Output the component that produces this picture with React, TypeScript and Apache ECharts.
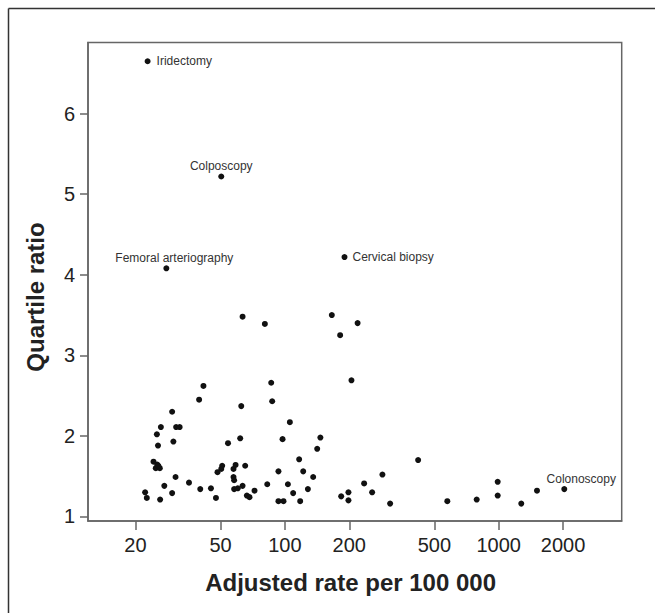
import React, { useEffect, useRef } from "react";
import * as echarts from "echarts";

// Adjusted rate per 100 000 (x) and quartile ratio (y) for unlabelled procedures
const rates: number[] = [
  63.4, 80.6, 165.8, 181.3, 218.8, 204.8,
  41.6, 39.7, 86.3, 87.2, 62.5, 29.7,
  26.3, 31.0, 32.2, 25.2, 105.5, 25.5,
  30.1, 54.2, 61.8, 97.5, 146.5, 141.6,
  24.3, 25.3, 24.9, 26.0, 25.6,
  116.6, 50.9, 50.4, 48.4, 58.8, 57.5, 65.2,
  57.5, 57.9, 93.3, 121.8, 135.6, 30.8,
  35.6, 27.3, 82.7, 103.3, 63.4, 40.2,
  45.1, 57.9, 60.2, 72.1, 128.1, 22.2,
  29.7, 109.3, 66.4, 68.3, 183.3, 198.2,
  22.6, 26.1, 47.6, 93.3, 98.5, 117.9, 198.2,
  419.8, 234.7, 255.9, 285.8, 310.5, 575, 789,
  989, 989, 1275, 1510,
];
const ratios: number[] = [
  3.48, 3.39, 3.5, 3.25, 3.4, 2.69,
  2.62, 2.45, 2.66, 2.43, 2.37, 2.3,
  2.11, 2.11, 2.11, 2.02, 2.17, 1.88,
  1.93, 1.91, 1.97, 1.96, 1.98, 1.84,
  1.68, 1.645, 1.6, 1.6, 1.627,
  1.71, 1.63, 1.59, 1.55, 1.64, 1.59, 1.63,
  1.49, 1.45, 1.56, 1.56, 1.49, 1.49,
  1.42, 1.38, 1.4, 1.4, 1.38, 1.34,
  1.35, 1.34, 1.35, 1.32, 1.34, 1.3,
  1.29, 1.29, 1.26, 1.24, 1.25, 1.3,
  1.23, 1.21, 1.23, 1.19, 1.19, 1.19, 1.2,
  1.7, 1.41, 1.3, 1.52, 1.16, 1.19, 1.21,
  1.43, 1.26, 1.16, 1.32,
];

// Labelled procedures
const labelNames: string[] = ["Iridectomy", "Colposcopy", "Femoral arteriography", "Cervical biopsy", "Colonoscopy"];
const labelRates: number[] = [22.8, 50.4, 27.9, 190, 2026];
const labelRatios: number[] = [6.65, 5.22, 4.08, 4.22, 1.34];

const xTicks: number[] = [20, 50, 100, 200, 500, 1000, 2000];
const yTicks: number[] = [1, 2, 3, 4, 5, 6];

const FONT = "'Liberation Sans', Arial, Helvetica, sans-serif";

export default function App() {
  const ref = useRef<HTMLDivElement>(null);

  useEffect(() => {
    document.body.style.margin = "0";
    if (!ref.current) return;
    const chart = echarts.init(ref.current, undefined, { renderer: "svg" });

    const labelPlacement: Record<string, any> = {
      Iridectomy: { position: "right", distance: 6 },
      Colposcopy: { position: "top", distance: 1 },
      "Femoral arteriography": { position: "top", distance: 1, offset: [8, 0] },
      "Cervical biopsy": { position: "right", distance: 5 },
      Colonoscopy: { position: "top", distance: 1, offset: [17, 0] },
    };

    const plain = rates.map((r, i) => [r, ratios[i]]);
    const labelled = labelNames.map((n, i) => ({
      name: n,
      value: [labelRates[i], labelRatios[i]],
      label: {
        show: true,
        formatter: n,
        fontSize: 12,
        color: "#333",
        fontFamily: FONT,
        ...labelPlacement[n],
      },
    }));

    chart.setOption({
      animation: false,
      backgroundColor: "#ffffff",
      grid: {
        left: 88,
        right: 33.3,
        top: 42.5,
        bottom: 92,
        show: true,
        borderColor: "#666",
        borderWidth: 1.5,
        backgroundColor: "transparent",
      },
      xAxis: {
        type: "log",
        logBase: 10,
        min: 12,
        max: 3760,
        axisLine: { show: true, onZero: false, lineStyle: { color: "#666", width: 1.5 } },
        axisTick: { show: true, length: 9, customValues: xTicks, lineStyle: { color: "#666", width: 1.5 } },
        minorTick: { show: false },
        splitLine: { show: false },
        minorSplitLine: { show: false },
        axisLabel: {
          customValues: xTicks,
          fontSize: 20,
          margin: 14,
          color: "#222",
          fontFamily: FONT,
          formatter: (v: number) => String(Math.round(v)),
        },
      },
      yAxis: {
        type: "value",
        min: 0.944,
        max: 6.883,
        axisLine: { show: true, onZero: false, lineStyle: { color: "#666", width: 1.5 } },
        axisTick: { show: true, length: 8, customValues: yTicks, lineStyle: { color: "#666", width: 1.5 } },
        splitLine: { show: false },
        axisLabel: {
          customValues: yTicks,
          fontSize: 20,
          margin: 13,
          color: "#222",
          fontFamily: FONT,
          formatter: (v: number) => String(Math.round(v)),
        },
      },
      graphic: [
        {
          type: "line",
          shape: { x1: 8.5, y1: 8.5, x2: 655, y2: 8.5 },
          style: { stroke: "#333", lineWidth: 1.5 },
          silent: true,
        },
        {
          type: "line",
          shape: { x1: 8.5, y1: 8.5, x2: 8.5, y2: 613 },
          style: { stroke: "#333", lineWidth: 1.5 },
          silent: true,
        },
        {
          type: "text",
          x: 35.5,
          y: 297,
          rotation: Math.PI / 2,
          style: {
            text: "Quartile ratio",
            fontSize: 24,
            fontWeight: "bold",
            fontFamily: FONT,
            fill: "#222",
            align: "center",
            verticalAlign: "middle",
          },
        },
        {
          type: "text",
          x: 350.6,
          y: 582,
          style: {
            text: "Adjusted rate per 100 000",
            fontSize: 24,
            fontWeight: "bold",
            fontFamily: FONT,
            fill: "#222",
            align: "center",
            verticalAlign: "middle",
          },
        },
      ],
      series: [
        {
          type: "scatter",
          symbol: "circle",
          symbolSize: 6,
          itemStyle: { color: "#111", opacity: 1 },
          data: plain,
        },
        {
          type: "scatter",
          symbol: "circle",
          symbolSize: 6,
          itemStyle: { color: "#111", opacity: 1 },
          data: labelled,
        },
      ],
    });

    return () => chart.dispose();
  }, []);

  return <div ref={ref} style={{ width: 655, height: 613 }} />;
}
